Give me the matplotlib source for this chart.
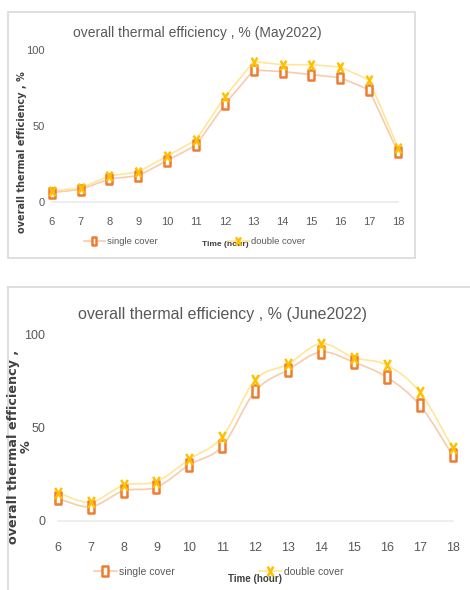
import matplotlib
matplotlib.use('Agg')
import matplotlib.pyplot as plt
import numpy as np
from matplotlib.path import Path
from matplotlib.patches import PathPatch, Rectangle
from matplotlib.lines import Line2D

# data
hours = [6, 7, 8, 9, 10, 11, 12, 13, 14, 15, 16, 17, 18]
may_single = [6, 8, 15, 17, 27, 37, 64, 86.5, 85.5, 83.5, 81.5, 73.5, 32.5]
may_double = [7, 9, 17, 19.5, 30, 40.5, 69, 92, 90, 90, 88.5, 80, 35.5]
june_single = [12, 7.5, 16, 18, 30, 40, 69.5, 81, 90.5, 85, 77, 62, 35]
june_double = [15, 10, 19, 21, 33, 45, 75.5, 84, 95, 87.5, 83.5, 69, 39]
y_ticks = [0, 50, 100]

W, H = 470, 590
font = ['Liberation Sans', 'DejaVu Sans']
grey = '#595959'
c_single = '#ED7D31'
c_double = '#FFC000'
l_single = '#F8CBAD'
l_double = '#FFE699'

# tall markers (picture is stretched vertically)
sq_marker = Path([(-0.55, -1), (0.55, -1), (0.55, 1), (-0.55, 1), (-0.55, -1)],
                 [Path.MOVETO, Path.LINETO, Path.LINETO, Path.LINETO, Path.CLOSEPOLY])
x_marker = Path([(-0.6, -1), (0.6, 1), (-0.6, 1), (0.6, -1)],
                [Path.MOVETO, Path.LINETO, Path.MOVETO, Path.LINETO])

fig = plt.figure(figsize=(W / 100, H / 100), dpi=100)


def px_axes(l, r, top, bot):
    return fig.add_axes([l / W, 1 - bot / H, (r - l) / W, (bot - top) / H])


def smooth_path(x, y, t=1 / 6):
    x = np.asarray(x, float)
    y = np.asarray(y, float)
    verts = [(x[0], y[0])]
    codes = [Path.MOVETO]
    n = len(x)
    for i in range(n - 1):
        i0 = max(i - 1, 0)
        i3 = min(i + 2, n - 1)
        c1 = (x[i] + (x[i + 1] - x[i0]) * t, y[i] + (y[i + 1] - y[i0]) * t)
        c2 = (x[i + 1] - (x[i3] - x[i]) * t, y[i + 1] - (y[i3] - y[i]) * t)
        verts += [c1, c2, (x[i + 1], y[i + 1])]
        codes += [Path.CURVE4] * 3
    return Path(verts, codes)


def style_axes(ax, tick_size, xpad, ypad):
    ax.set_xlim(6, 18)
    ax.set_ylim(0, 100)
    ax.set_xticks(hours)
    ax.set_yticks(y_ticks)
    for s in ['top', 'right', 'left']:
        ax.spines[s].set_visible(False)
    ax.spines['bottom'].set_color('#EBEBEB')
    ax.spines['bottom'].set_linewidth(1.2)
    ax.tick_params(length=0, colors=grey, labelsize=tick_size)
    ax.tick_params(axis='x', pad=xpad)
    ax.tick_params(axis='y', pad=ypad)
    for lab in ax.get_xticklabels() + ax.get_yticklabels():
        lab.set_family(font)
    ax.patch.set_alpha(0)


def draw(ax, single, double, smooth, msize):
    if smooth:
        ax.add_patch(PathPatch(smooth_path(hours, single), fill=False, ec=l_single, lw=1.2))
        ax.add_patch(PathPatch(smooth_path(hours, double), fill=False, ec=l_double, lw=1.2))
    else:
        ax.plot(hours, single, color=l_single, lw=1.2)
        ax.plot(hours, double, color=l_double, lw=1.2)
    ax.plot(hours, single, ls='none', marker=sq_marker, ms=msize, mfc='white',
            mec=c_single, mew=1.8, clip_on=False)
    ax.plot(hours, double, ls='none', marker=x_marker, ms=msize, mec=c_double,
            mew=1.8, clip_on=False)


def legend_at(x, y, fs, ms):
    h1 = Line2D([], [], color=l_single, lw=1.2, marker=sq_marker, ms=ms, mfc='white',
                mec=c_single, mew=1.8)
    h2 = Line2D([], [], color=l_double, lw=1.2, marker=x_marker, ms=ms, mec=c_double, mew=1.8)
    for h, lab, x0 in [(h1, 'single cover', x[0]), (h2, 'double cover', x[1])]:
        lg = fig.legend([h], [lab], loc='center left', bbox_to_anchor=(x0 / W, 1 - y / H),
                        frameon=False, prop={'family': font, 'size': fs}, handlelength=2.2,
                        handletextpad=0.2, borderpad=0, borderaxespad=0)
        for t in lg.get_texts():
            t.set_color(grey)
        lg.set_zorder(5)


# panel frames
fig.add_artist(Rectangle((8 / W, 1 - 258 / H), (415 - 8) / W, (258 - 12) / H,
                         transform=fig.transFigure, fill=False, ec='#D9D9D9', lw=1.2))
fig.add_artist(Line2D([8 / W, 1], [1 - 287 / H] * 2, color='#D9D9D9', lw=1.2))
fig.add_artist(Line2D([8 / W] * 2, [1 - 287 / H, 0], color='#D9D9D9', lw=1.2))

# May
ax1 = px_axes(51.7, 398, 49.5, 201.7)
style_axes(ax1, 8, 11, 5)
draw(ax1, may_single, may_double, False, 7)
fig.text(197 / W, 1 - 33 / H, 'overall thermal efficiency , % (May2022)', ha='center', va='center',
         fontsize=10, color=grey, family=font)
fig.text(22 / W, 1 - 152 / H, 'overall thermal efficiency , %', rotation=90, ha='center', va='center',
         fontsize=7, fontweight='bold', color='#404040', family='DejaVu Sans')
fig.text(225 / W, 1 - 245 / H, 'Time (hour)', ha='center', va='center', fontsize=6,
         fontweight='bold', color='#404040', family=font)
legend_at((84, 228), 242, 6.8, 6)

# June
ax2 = px_axes(57.7, 452.7, 334.3, 520.7)
style_axes(ax2, 9, 15, 9)
draw(ax2, june_single, june_double, True, 8)
fig.text(222 / W, 1 - 315 / H, 'overall thermal efficiency , % (June2022)', ha='center', va='center',
         fontsize=11.5, color=grey, family=font)
fig.text(20 / W, 1 - 447 / H, 'overall thermal efficiency ,\n%', rotation=90, ha='center', va='center',
         fontsize=9.2, fontweight='bold', color='#404040', family='DejaVu Sans', linespacing=0.95)
fig.text(255 / W, 1 - 579 / H, 'Time (hour)', ha='center', va='center', fontsize=7,
         fontweight='bold', color='#404040', family=font)
legend_at((94, 259), 572, 7.5, 7)

fig.savefig('out.png', dpi=100)
